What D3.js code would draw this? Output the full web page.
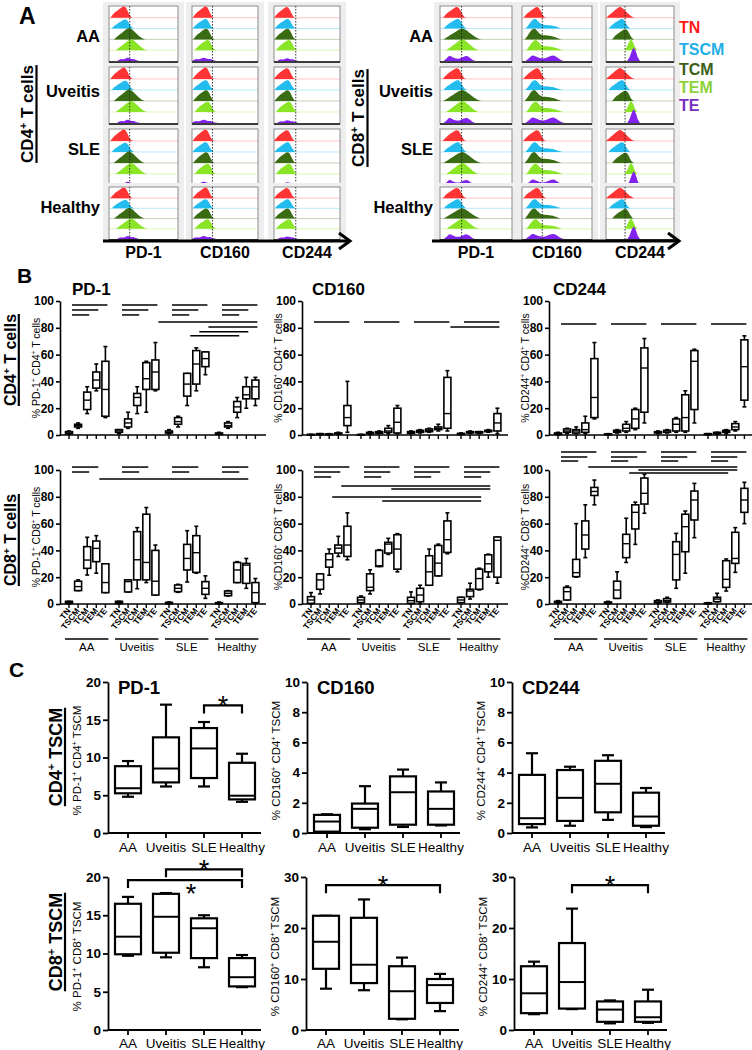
<!DOCTYPE html>
<html><head><meta charset="utf-8">
<script src="https://cdn.jsdelivr.net/npm/d3@7"></script>
<style>body{margin:0;background:#fff}svg{display:block;font-family:"Liberation Sans",Arial,sans-serif}</style>
</head><body><svg id="c" width="752" height="1050"></svg>
<script>
// ---------------- DATA ----------------
const groups = ["AA","Uveitis","SLE","Healthy"];
const subsets = ["TN","TSCM","TCM","TEM","TE"];
const histMarkers = ["PD-1","CD160","CD244"];
const legendLabels = ["TN","TSCM","TCM","TEM","TE"];

// histogram shapes (relative density per bin)
const histShapes = {
  peak:   [0,0.22,0.4,0.55,0.68,0.8,0.92,1,0.95,0.7,0.35,0.1,0],
  wide:   [0,0.15,0.3,0.45,0.6,0.75,0.9,1,0.97,0.85,0.68,0.5,0.32,0.18,0.07,0],
  tail:   [0,0.3,0.65,0.92,1,0.8,0.55,0.42,0.38,0.36,0.34,0.3,0.24,0.16,0.07,0],
  bimodal:[0,0.4,0.8,0.65,0.45,0.38,0.48,0.7,0.8,0.55,0.2,0],
  low:    [0,0.3,0.45,0.38,0.55,0.7,0.6,0.42,0.45,0.22,0.08,0],
  narrow: [0,0.25,0.7,1,0.75,0.25,0]
};
// [shape, start (fraction of axis), relative height, bin step]
const histCD4 = {
  "PD-1":  [["peak",0.02,1,0.027],["peak",0.04,0.8,0.027],["wide",0.07,1,0.03],["wide",0.1,0.95,0.03],["low",0.12,0.4,0.03]],
  "CD160": [["peak",0.01,1,0.027],["peak",0.01,0.85,0.027],["peak",0.02,0.95,0.027],["peak",0.04,0.9,0.027],["low",0.0,0.4,0.035]],
  "CD244": [["peak",0.0,0.95,0.027],["peak",0.01,0.85,0.027],["peak",0.01,0.95,0.027],["peak",0.03,0.9,0.027],["low",0.05,0.35,0.03]]
};
const histCD8 = {
  "PD-1":  [["peak",0.04,0.95,0.027],["peak",0.05,0.85,0.027],["wide",0.05,0.95,0.035],["wide",0.09,0.95,0.03],["bimodal",0.05,0.55,0.04]],
  "CD160": [["peak",0.02,0.95,0.027],["tail",0.05,0.85,0.035],["tail",0.04,0.95,0.035],["tail",0.06,0.9,0.035],["bimodal",0.05,0.6,0.05]],
  "CD244": [["wide",0.0,0.95,0.028],["peak",0.04,0.85,0.027],["peak",0.09,0.9,0.027],["narrow",0.27,0.95,0.032],["narrow",0.31,1.15,0.032]]
};
const gateCD4 = [0.3,0.31,0.33];
const gateCD8 = [0.3,0.29,0.28];
const histAxisTicks = [0.03,0.06,0.08,0.1,0.12,0.14,0.16,0.3,0.45,0.53,0.58,0.62,0.65,0.67,0.8,0.88,0.93,0.97];

// panel B: [min, q1, median, q3, max], group-major (AA, Uveitis, SLE, Healthy) x (TN..TE)
const bCD4PD1 = [
 [0.5,1,1.5,2.5,3],[5,6,7,8,9],[16,19,26,32,36],[33,35,41,47,53],[13,14,34,55,66],
 [1,2,3,4,4],[5,6,9,12,17],[16,22,28,31,36],[17,34,42,54,55],[33,34,47,56,69],
 [1,1.5,2,3,4],[6,8,10,13,14],[22,29,38,46,46],[33,38,53,63,65],[45,51,57,62,62],
 [0.5,0.5,1,1.5,2],[5,6,7,9,10],[13,17,21,25,28],[20,27,30,36,43],[22,27,36,41,43]];
const bCD4CD160 = [
 [0,0,0.2,0.5,0.5],[0,0.3,0.6,1,1],[0,0.3,0.5,0.8,1],[0.5,1,1.2,1.5,2],[2,7,13,22,40],
 [0,0,0.2,0.4,0.5],[0.5,1,1.5,2,2.5],[1,1.2,1.8,2.5,3],[1,2,3,5,7],[1,1.5,9.5,20,22],
 [1,1.2,2,2.5,3],[1.5,2,2.5,3.5,4],[2,2.5,3.5,4.5,5],[3,4,5,6,8],[3,5,16,43,48],
 [0.5,0.5,1,1.2,1.5],[1,1.5,2,2.5,3],[1,1.5,2,2.5,2.5],[2,2.5,3,3.5,4],[1,3,9,16,20]];
const bCD4CD244 = [
 [0,0.5,1,1.5,2],[1,2,3,4.5,5],[1,1.5,3,4,6],[1,2,4,9,14],[12,13,28,57,69],
 [0,0.3,0.5,0.8,1],[1.5,2,2.5,3.5,4],[2,3,5,8,10],[4,5,12,19,20],[9,17,50,65,72],
 [1,1.5,2,2.5,3],[1.5,2,3,3.5,4],[2,3,8,12,13],[2,3,13,30,33],[9,19,55,63,64],
 [0,0.3,0.5,1,1],[0.5,1,1.5,2,2],[1,2,2.5,3.5,4],[3,4,6,8.5,10],[21,26,51,71,74]];
const bCD8PD1 = [
 [0,0.5,1,2,2],[10,10,13,17,18],[21.6,26.6,32.8,42.8,49.8],[23,31.6,41.5,47,51],[8.5,8.5,16,30,30],
 [0,0.5,1,2,2],[9,9,16.7,18,18],[11.4,18,33,54,57],[16,18,31,67,72],[6.7,6.7,17,40,44],
 [0,0.3,0.8,1.2,1.5],[8.7,9.2,11.7,14.2,14.7],[16.4,25.4,34,44.5,54.7],[23,23.6,38.3,51,58],[4.2,7.2,11.7,16.7,21],
 [0,0.3,0.5,1,1.5],[6,6.2,8,9.7,10],[16,16,25.4,31,31.6],[11.7,15.4,29,30.3,34],[0.5,1,8.5,16,19]];
const bCD8CD160 = [
 [0,0.5,3,5.5,8.5],[7.5,11,18,22.5,22.5],[21.5,27.5,33,37.5,41],[35.5,38,41.7,44,50.5],[33,35.5,44,58,68],
 [1,1,3,5,6],[7.5,10,12.5,22.5,25.5],[28,28,28.5,40,40.5],[37,38,44.7,46,49],[24,26,41,51.7,52.5],
 [0,0.5,2.5,5,9],[0.5,1.7,6.7,11.7,14],[14,14,24,36,41],[21,21,30.5,43.7,44.7],[37.5,38.5,48,62,68],
 [1,1,3,5,5],[3.7,5.5,9.7,11,15.5],[10.5,11,19,26,26.7],[20,24,30,36.7,37.2],[15.5,20,47.5,50,50]];
const bCD8CD244 = [
 [0.5,1,1.5,2,2.5],[3,3,9.2,12.4,13.4],[20,20.4,23.4,33.3,60],[34.6,41,51.5,62,74],[74,81,84,87,92.5],
 [0,0.5,1,1.5,2],[4.2,4.2,10.4,17,24],[31,34.6,45,52,64],[44.5,56,68.4,74,76],[67.7,74.6,82.6,94,96.8],
 [0.5,1,1.5,2.5,3],[1,1.5,2.5,4,5],[11.7,18,37,46.5,52.7],[23,39,57.7,67,69.4],[49.5,62.7,77.6,84.3,90],
 [0,0.2,0.5,0.8,1],[1.7,1.7,3.7,5,8],[9.7,12.4,18.4,32.3,33.6],[23.6,30.3,34,53.5,57],[60,68.4,77.6,86.3,90.8]];
const bTicks = [0,20,40,60,80,100];

// significance lines: [group1, subset1, group2, subset2, level]
const sigCD4PD1 = [
 ["AA","TN","AA","TE",97],["AA","TN","AA","TEM",93.3],["AA","TN","AA","TCM",89.6],
 ["Uveitis","TN","Uveitis","TE",97],["Uveitis","TN","Uveitis","TEM",93.3],["Uveitis","TN","Uveitis","TCM",89.6],
 ["SLE","TN","SLE","TE",97],["SLE","TN","SLE","TEM",93.3],["SLE","TN","SLE","TCM",89.6],
 ["Healthy","TN","Healthy","TE",97],["Healthy","TN","Healthy","TEM",93.3],["Healthy","TN","Healthy","TCM",89.6],
 ["Uveitis","TE","Healthy","TE",84.3],["SLE","TE","Healthy","TE",80.6],["SLE","TEM","Healthy","TEM",77],["SLE","TCM","Healthy","TCM",74]];
const sigCD4CD160 = [
 ["AA","TN","AA","TE",84.3],["Uveitis","TN","Uveitis","TE",84.3],["SLE","TN","SLE","TE",84.3],["Healthy","TN","Healthy","TE",84.3],
 ["SLE","TE","Healthy","TE",80.6]];
const sigCD4CD244 = [
 ["AA","TN","AA","TE",82.8],["Uveitis","TN","Uveitis","TE",82.8],["SLE","TN","SLE","TE",82.8],["Healthy","TN","Healthy","TE",82.8]];
const sigCD8PD1 = [
 ["AA","TN","AA","TEM",102.2],["AA","TN","AA","TCM",98.5],
 ["Uveitis","TN","Uveitis","TEM",102.2],["Uveitis","TN","Uveitis","TCM",98.5],
 ["SLE","TN","SLE","TEM",102.2],["SLE","TN","SLE","TCM",98.5],
 ["Healthy","TN","Healthy","TEM",102.2],["Healthy","TN","Healthy","TCM",98.5],
 ["AA","TEM","Healthy","TEM",93.3]];
const sigCD8CD160 = [
 ["AA","TN","AA","TE",102.2],["AA","TN","AA","TEM",98.5],["AA","TN","AA","TCM",94.8],
 ["Uveitis","TN","Uveitis","TE",102.2],["Uveitis","TN","Uveitis","TEM",98.5],["Uveitis","TN","Uveitis","TCM",94.8],
 ["SLE","TN","SLE","TE",102.2],["SLE","TN","SLE","TEM",98.5],["SLE","TN","SLE","TCM",94.8],
 ["Healthy","TN","Healthy","TE",102.2],["Healthy","TN","Healthy","TEM",98.5],["Healthy","TN","Healthy","TCM",94.8],
 ["AA","TEM","Healthy","TEM",88],["Uveitis","TEM","Healthy","TEM",85.8],["AA","TCM","Healthy","TCM",79.9],["Uveitis","TCM","Healthy","TCM",76.9]];
const sigCD8CD244 = [
 ["AA","TN","AA","TE",113.4],["AA","TN","AA","TEM",109.7],["AA","TN","AA","TCM",106.7],
 ["Uveitis","TN","Uveitis","TE",113.4],["Uveitis","TN","Uveitis","TEM",109.7],["Uveitis","TN","Uveitis","TCM",106.7],
 ["SLE","TN","SLE","TE",113.4],["SLE","TN","SLE","TEM",109.7],["SLE","TN","SLE","TCM",106.7],
 ["Healthy","TN","Healthy","TE",113.4],["Healthy","TN","Healthy","TEM",109.7],["Healthy","TN","Healthy","TCM",106.7],
 ["AA","TEM","Healthy","TEM",102.2],["Uveitis","TEM","Healthy","TEM",100],["Uveitis","TCM","Healthy","TCM",97.8]];

// panel C: [min, q1, median, q3, max] per group
const cCD4PD1   = [[4.8,5.26,5.93,8.85,9.53],[6.16,6.7,8.54,12.67,17],[6.16,7.28,11.2,13.9,14.7],[4.13,4.45,4.94,9.3,10.5]];
const cCD4CD160 = [[0.04,0.09,0.76,1.2,1.24],[0.25,0.35,1.6,1.95,3.1],[0.4,0.55,2.7,3.75,4.2],[0.5,0.55,1.6,2.75,3.35]];
const cCD4CD244 = [[0.37,0.59,0.98,3.85,5.28],[0.48,0.8,2.33,4.17,4.39],[0.87,1.37,3.26,4.78,5.15],[0.39,0.48,1.09,2.67,2.98]];
const cCD8PD1   = [[9.7,9.9,12.2,16.5,17.4],[9.5,10.1,14.8,17.8,17.9],[8.2,9.4,13.3,14.6,15],[5.6,5.7,6.9,9.4,9.8]];
const cCD8CD160 = [[8.1,12,17.3,22.4,22.4],[7.8,9.2,12.8,22,25.6],[2.1,2.2,7.6,12.5,14.2],[3.7,5.3,8.8,10,11]];
const cCD8CD244 = [[3.1,3.3,7.2,12.5,13.4],[4.1,4.2,9.4,17.05,23.8],[1.3,1.6,4,5.6,5.8],[1.4,1.6,2.5,5.6,7.9]];
const cTicks20 = [0,5,10,15,20];
const cTicks10 = [0,2,4,6,8,10];
const cTicks30 = [0,10,20,30];
// brackets: [from, to, level, star side]
const cSigCD4PD1 = [["SLE","Healthy",16.9,"above"]];
const cSigCD8PD1 = [["Uveitis","Healthy",21,"above"],["AA","Healthy",19.6,"below"]];
const cSigCD8CD160 = [["AA","Healthy",28.4,"above"]];
const cSigCD8CD244 = [["Uveitis","Healthy",28.4,"above"]];

// ---------------- STYLE ----------------
const histColors = ["#ff3434","#22bcef","#3a6c14","#8ae526","#8222ee"];
const legendColors = ["#ff1a1a","#22aee6","#3b5e18","#8dd23a","#7a2cbf"];

const svg = d3.select("#c");

function rich(sel, str, fs){
  const parts = str.split(/(\^.)/).filter(s=>s.length);
  const sh = fs*0.38; let up=false;
  parts.forEach(p=>{
    if(p[0]==="^"){ sel.append("tspan").attr("dy",-sh).attr("font-size",fs*0.62).text(p.slice(1)); up=true; }
    else { const t = sel.append("tspan").text(p); if(up){ t.attr("dy",sh); up=false; } }
  });
}
function txt(x,y,str,fs,weight,anchor,fill){
  const t = svg.append("text").attr("x",x).attr("y",y).attr("font-size",fs)
    .attr("font-weight",weight||"normal").attr("text-anchor",anchor||"start").attr("fill",fill||"#000");
  rich(t,str,fs); return t;
}
function rotLabel(x,y,str,fs,weight,ul){
  const g = svg.append("g").attr("transform",`translate(${x},${y}) rotate(-90)`);
  const t = g.append("text").attr("text-anchor","middle").attr("font-size",fs).attr("font-weight",weight);
  rich(t,str,fs);
  if(ul){
    const w = t.node().getComputedTextLength();
    g.append("line").attr("x1",-w/2).attr("x2",w/2).attr("y1",ul).attr("y2",ul).attr("stroke","#000").attr("stroke-width",2.2);
  }
}
function styleAxis(sel, fs, sw){
  sel.attr("font-family",null).attr("font-size",fs).attr("font-weight","bold");
  sel.select(".domain").attr("stroke","#000").attr("stroke-width",sw);
  sel.selectAll(".tick line").attr("stroke","#000").attr("stroke-width",sw);
  sel.selectAll(".tick text").attr("fill","#000");
}

// ---------------- PANEL A ----------------
txt(19,24,"A",23,"bold");
const rowBands = [[6,62],[67,124],[129,186],[187,240]];
const aGroups = [
  {cols:[[109,178],[192,258],[274,340]], gate:gateCD4, data:histCD4, labelX:100, arrow:[103,350]},
  {cols:[[440,512],[522,592],[606,674]], gate:gateCD8, data:histCD8, labelX:433, arrow:[432,679]}
];
const rowLabelY = [42,97,155,213];
aGroups.forEach(G=>{
  G.cols.forEach((c,ci)=>{
    rowBands.forEach((rb,ri)=>{
      const [x0,x1]=c, [t,b]=rb, h=b-t;
      svg.append("rect").attr("x",x0-6).attr("y",t-4).attr("width",x1-x0+12).attr("height",h+6).attr("fill","#eeeeee");
      svg.append("rect").attr("x",x0).attr("y",t).attr("width",x1-x0).attr("height",h).attr("fill","#fff").attr("stroke","#8c8c8c").attr("stroke-width",1);
      const xh = d3.scaleLinear([0,1],[x0,x1]);
      const specs = G.data[histMarkers[ci]];
      specs.forEach((sp,si)=>{
        const base = t + h*(0.21 + si*0.193);
        const rowH = h*0.2;
        if(si<4) svg.append("line").attr("x1",x0).attr("x2",x1).attr("y1",base).attr("y2",base).attr("stroke",histColors[si]).attr("stroke-opacity",0.3).attr("stroke-width",1);
        const shape = histShapes[sp[0]];
        const pts = shape.map((v,i)=>[sp[1]+i*sp[3], v]);
        const yh = d3.scaleLinear([0,1],[base, base-rowH*sp[2]]);
        const area = d3.area().x(d=>xh(d[0])).y0(base).y1(d=>Math.min(base,yh(d[1]))).curve(d3.curveCatmullRom);
        svg.append("path").attr("d",area(pts)).attr("fill",histColors[si]);
      });
      svg.append("line").attr("x1",xh(G.gate[ci])).attr("x2",xh(G.gate[ci])).attr("y1",t).attr("y2",b)
        .attr("stroke","#222").attr("stroke-width",0.9).attr("stroke-dasharray","1.5,1.5");
      svg.append("line").attr("x1",x0).attr("x2",x1).attr("y1",b).attr("y2",b).attr("stroke","#111").attr("stroke-width",1.3);
      histAxisTicks.forEach(f=>svg.append("line").attr("x1",xh(f)).attr("x2",xh(f)).attr("y1",b).attr("y2",b+2).attr("stroke","#333").attr("stroke-width",0.8));
    });
    txt((c[0]+c[1])/2,258,histMarkers[ci],16,"bold","middle");
  });
  groups.forEach((g,i)=>txt(G.labelX,rowLabelY[i],g,16.5,"bold","end"));
  const [ax0,ax1]=G.arrow;
  svg.append("line").attr("x1",ax0).attr("x2",ax1-1).attr("y1",241).attr("y2",241).attr("stroke","#000").attr("stroke-width",3);
  svg.append("path").attr("d",`M${ax1-11},233L${ax1},241L${ax1-11},249`).attr("fill","none").attr("stroke","#000").attr("stroke-width",3);
});
rotLabel(33,114,"CD4^+ T cells",17,"bold",3.5);
rotLabel(364,118,"CD8^+ T cells",17,"bold",3.5);
legendLabels.forEach((l,i)=>txt(679,[33,55,75,93,111][i],l,16,"bold","start",legendColors[i]));

// ---------------- PANEL B ----------------
txt(17,283,"B",21,"bold");
function drawB(cfg){
  const {ax,y0,y1,data,sig,title,ylabel,row2} = cfg;
  const y = d3.scaleLinear([0,100],[y0,y1]);
  const xg = d3.scaleBand().domain(groups).range([ax+4, ax+204]);
  const xs = d3.scalePoint().domain(subsets).range([5,41.4]);
  const pos = (g,s)=>xg(g)+xs(s);
  svg.append("g").attr("transform",`translate(${ax},0)`)
    .call(d3.axisLeft(y).tickValues(bTicks).tickSize(4).tickSizeOuter(0).tickPadding(2))
    .call(styleAxis,12,1.6);
  svg.append("line").attr("x1",ax).attr("x2",ax+206).attr("y1",y0).attr("y2",y0).attr("stroke","#000").attr("stroke-width",1.6);
  groups.forEach((g,gi)=>subsets.forEach((s,si)=>{
    const x = pos(g,s);
    svg.append("line").attr("x1",x).attr("x2",x).attr("y1",y0).attr("y2",y0+4).attr("stroke","#000").attr("stroke-width",1.4);
    const d = data[gi*5+si];
    const bw=7, cw=4;
    svg.append("line").attr("x1",x).attr("x2",x).attr("y1",y(d[0])).attr("y2",y(d[4])).attr("stroke","#000").attr("stroke-width",1.6);
    [d[0],d[4]].forEach(v=>svg.append("line").attr("x1",x-cw/2).attr("x2",x+cw/2).attr("y1",y(v)).attr("y2",y(v)).attr("stroke","#000").attr("stroke-width",1.6));
    svg.append("rect").attr("x",x-bw/2).attr("y",y(d[3])).attr("width",bw).attr("height",Math.max(0.5,y(d[1])-y(d[3])))
      .attr("fill","#fff").attr("stroke","#000").attr("stroke-width",1.6);
    svg.append("line").attr("x1",x-bw/2).attr("x2",x+bw/2).attr("y1",y(d[2])).attr("y2",y(d[2])).attr("stroke","#000").attr("stroke-width",1.4);
    if(row2){
      svg.append("text").attr("transform",`translate(${x+2},${y0+7}) rotate(-52)`).attr("text-anchor","end")
        .attr("font-size",8.5).attr("font-weight","bold").text(s);
    }
  }));
  sig.forEach(s=>{
    svg.append("line").attr("x1",pos(s[0],s[1])+3).attr("x2",pos(s[2],s[3])+2).attr("y1",y(s[4])).attr("y2",y(s[4]))
      .attr("stroke","#000").attr("stroke-width",1.5);
  });
  if(title) txt(cfg.tx,295,title,17,"bold");
  rotLabel(ax-20,(y0+y1)/2,ylabel,10.5,"normal",0);
  if(row2){
    groups.forEach(g=>{
      const a=pos(g,"TN")-4, b=pos(g,"TE")+3;
      svg.append("line").attr("x1",a).attr("x2",b).attr("y1",639).attr("y2",639).attr("stroke","#000").attr("stroke-width",1.6);
      txt((a+b)/2,651,g,11.5,"normal","middle");
    });
  }
}
drawB({ax:60,y0:435,y1:301,data:bCD4PD1,sig:sigCD4PD1,title:"PD-1",tx:72,ylabel:"% PD-1^+ CD4^+ T cells"});
drawB({ax:302,y0:435,y1:301,data:bCD4CD160,sig:sigCD4CD160,title:"CD160",tx:312,ylabel:"% CD160^+ CD4^+ T cells"});
drawB({ax:549,y0:435,y1:301,data:bCD4CD244,sig:sigCD4CD244,title:"CD244",tx:553,ylabel:"% CD244^+ CD4^+ T cells"});
drawB({ax:60,y0:604,y1:470,data:bCD8PD1,sig:sigCD8PD1,ylabel:"% PD-1^+ CD8^+ T cells",row2:true});
drawB({ax:302,y0:604,y1:470,data:bCD8CD160,sig:sigCD8CD160,ylabel:"%CD160^+ CD8^+ T cells",row2:true});
drawB({ax:549,y0:604,y1:470,data:bCD8CD244,sig:sigCD8CD244,ylabel:"%CD244^+ CD8^+ T cells",row2:true});
rotLabel(16,360,"CD4^+ T cells",16,"bold",2.8);
rotLabel(16,540,"CD8^+ T cells",16,"bold",2.8);

// ---------------- PANEL C ----------------
txt(9,677,"C",21,"bold");
function drawC(cfg){
  const {ax,y0,y1,max,ticks,data,sig,title,ylabel,labY} = cfg;
  const y = d3.scaleLinear([0,max],[y0,y1]);
  const x = d3.scalePoint().domain(groups).range([ax+20, ax+134]);
  svg.append("g").attr("transform",`translate(${ax},0)`)
    .call(d3.axisLeft(y).tickValues(ticks).tickSize(5).tickSizeOuter(0).tickPadding(2))
    .call(styleAxis,13.5,1.8);
  svg.append("line").attr("x1",ax).attr("x2",ax+153).attr("y1",y0).attr("y2",y0).attr("stroke","#000").attr("stroke-width",1.8);
  groups.forEach((g,gi)=>{
    const cx = x(g), d = data[gi], bw=26, cw=12;
    svg.append("line").attr("x1",cx).attr("x2",cx).attr("y1",y0).attr("y2",y0+5).attr("stroke","#000").attr("stroke-width",1.8);
    svg.append("line").attr("x1",cx).attr("x2",cx).attr("y1",y(d[0])).attr("y2",y(d[4])).attr("stroke","#000").attr("stroke-width",2.2);
    [d[0],d[4]].forEach(v=>svg.append("line").attr("x1",cx-cw/2).attr("x2",cx+cw/2).attr("y1",y(v)).attr("y2",y(v)).attr("stroke","#000").attr("stroke-width",2.2));
    svg.append("rect").attr("x",cx-bw/2).attr("y",y(d[3])).attr("width",bw).attr("height",y(d[1])-y(d[3]))
      .attr("fill","#fff").attr("stroke","#000").attr("stroke-width",2.2);
    svg.append("line").attr("x1",cx-bw/2).attr("x2",cx+bw/2).attr("y1",y(d[2])).attr("y2",y(d[2])).attr("stroke","#000").attr("stroke-width",2);
    txt(cx,labY,g,13.5,"normal","middle");
  });
  (sig||[]).forEach(s=>{
    const a=x(s[0]), b=x(s[1]), yy=y(s[2]);
    svg.append("path").attr("d",`M${a},${yy+8}V${yy}H${b}V${yy+8}`).attr("fill","none").attr("stroke","#000").attr("stroke-width",2.2);
    const sy = s[3]==="above" ? yy-5 : yy+8;
    const sx = s[3]==="above" ? (a+b)/2 : (a+b)/2+6;
    svg.append("text").attr("x",sx).attr("y",sy+15).attr("text-anchor","middle").attr("font-size",27).text("*");
  });
  if(title) txt(ax+10,694,title,18.5,"bold");
  rotLabel(ax-27,(y0+y1)/2+3,ylabel,11.5,"normal",0);
}
drawC({ax:108,y0:833,y1:682,max:20,ticks:cTicks20,data:cCD4PD1,sig:cSigCD4PD1,title:"PD-1",ylabel:"% PD-1^+ CD4^+ TSCM",labY:852});
drawC({ax:307,y0:833,y1:682,max:10,ticks:cTicks10,data:cCD4CD160,title:"CD160",ylabel:"% CD160^+ CD4^+ TSCM",labY:852});
drawC({ax:512,y0:833,y1:682,max:10,ticks:cTicks10,data:cCD4CD244,title:"CD244",ylabel:"% CD244^+ CD4^+ TSCM",labY:852});
drawC({ax:108,y0:1030,y1:877,max:20,ticks:cTicks20,data:cCD8PD1,sig:cSigCD8PD1,ylabel:"% PD-1^+ CD8^+ TSCM",labY:1048});
drawC({ax:306,y0:1030,y1:877,max:30,ticks:cTicks30,data:cCD8CD160,sig:cSigCD8CD160,ylabel:"% CD160^+ CD8^+ TSCM",labY:1048});
drawC({ax:514,y0:1030,y1:877,max:30,ticks:cTicks30,data:cCD8CD244,sig:cSigCD8CD244,ylabel:"% CD244^+ CD8^+ TSCM",labY:1048});
rotLabel(62,757,"CD4^+ TSCM",18,"bold",3);
rotLabel(62,942,"CD8^+ TSCM",18,"bold",3);
</script></body></html>
